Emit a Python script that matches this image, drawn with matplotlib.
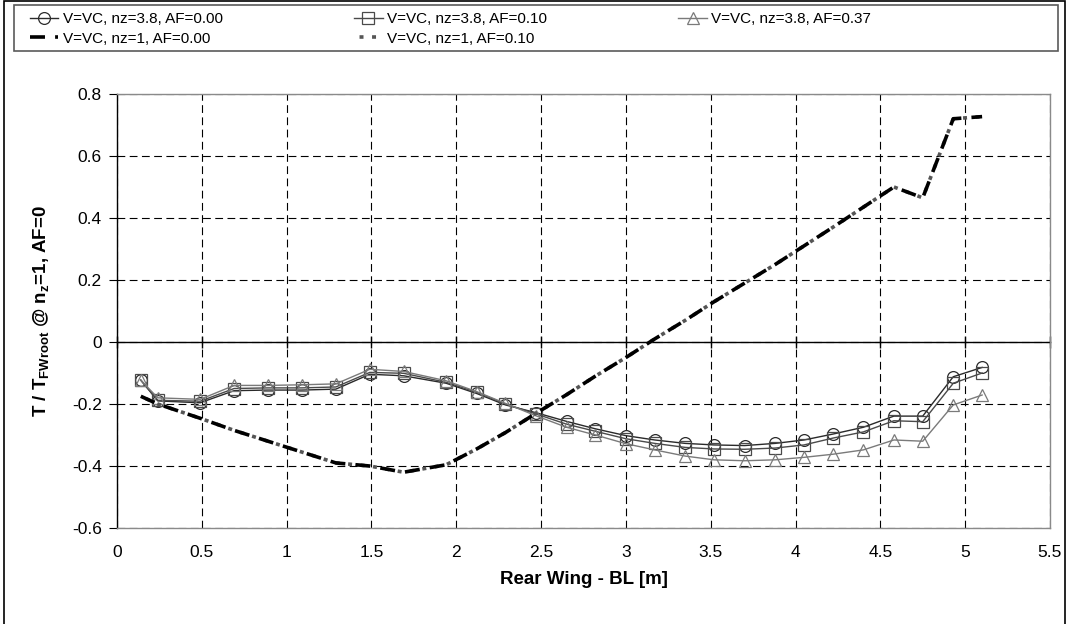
import matplotlib
matplotlib.use("Agg")
import matplotlib.pyplot as plt
from matplotlib.patches import Rectangle

plt.rcParams['font.family'] = ['Liberation Sans', 'DejaVu Sans']
plt.rcParams['mathtext.fontset'] = 'custom'
plt.rcParams['mathtext.rm'] = 'Liberation Sans'
plt.rcParams['mathtext.bf'] = 'Liberation Sans:bold'

# spanwise stations along the rear wing [m]
bl = [0.14, 0.24, 0.49, 0.69, 0.89, 1.09, 1.29, 1.49, 1.69, 1.94,
      2.12, 2.29, 2.47, 2.65, 2.82, 3.00, 3.17, 3.35, 3.52, 3.70,
      3.88, 4.05, 4.22, 4.40, 4.58, 4.75, 4.93, 5.10]

# torque ratio, nz = 3.8
t_nz38_af000 = [-0.123, -0.190, -0.196, -0.157, -0.155, -0.155, -0.152, -0.104, -0.109, -0.133,
                -0.166, -0.203, -0.228, -0.256, -0.280, -0.302, -0.316, -0.327, -0.332, -0.334,
                -0.327, -0.316, -0.297, -0.275, -0.239, -0.239, -0.112, -0.082]
t_nz38_af010 = [-0.123, -0.188, -0.191, -0.150, -0.148, -0.148, -0.145, -0.098, -0.101, -0.130,
                -0.162, -0.200, -0.232, -0.265, -0.288, -0.312, -0.327, -0.340, -0.345, -0.346,
                -0.342, -0.332, -0.310, -0.290, -0.254, -0.257, -0.133, -0.100]
t_nz38_af037 = [-0.123, -0.180, -0.185, -0.140, -0.140, -0.138, -0.135, -0.088, -0.095, -0.125,
                -0.160, -0.198, -0.238, -0.275, -0.300, -0.328, -0.348, -0.368, -0.380, -0.383,
                -0.380, -0.372, -0.362, -0.348, -0.316, -0.320, -0.203, -0.171]

# torque ratio, nz = 1
t_nz1_af000 = [-0.175, -0.200, -0.246, -0.285, -0.320, -0.355, -0.390, -0.400, -0.420, -0.396,
               -0.345, -0.292, -0.230, -0.170, -0.110, -0.050, 0.010, 0.070, 0.130, 0.190,
               0.250, 0.310, 0.370, 0.435, 0.500, 0.465, 0.720, 0.727]
t_nz1_af010 = [-0.175, -0.200, -0.246, -0.285, -0.320, -0.355, -0.390, -0.400, -0.420, -0.396,
               -0.345, -0.292, -0.230, -0.170, -0.110, -0.050, 0.010, 0.070, 0.130, 0.190,
               0.250, 0.310, 0.370, 0.435, 0.500, 0.465, 0.720, 0.727]

labels = ['V=VC, nz=3.8, AF=0.00', 'V=VC, nz=3.8, AF=0.10', 'V=VC, nz=3.8, AF=0.37',
          'V=VC, nz=1, AF=0.00', 'V=VC, nz=1, AF=0.10']

xticks = [0, 0.5, 1, 1.5, 2, 2.5, 3, 3.5, 4, 4.5, 5, 5.5]
yticks = [-0.6, -0.4, -0.2, 0, 0.2, 0.4, 0.6, 0.8]

fig = plt.figure(figsize=(10.68, 6.24), dpi=100)
# outer chart frame and the legend box
fig.patches.append(Rectangle((0.004, -0.01), 0.993, 1.008, transform=fig.transFigure,
                             fill=False, edgecolor='black', linewidth=1.2))
fig.patches.append(Rectangle((0.0131, 0.9183), 0.9775, 0.0737, transform=fig.transFigure,
                             fill=False, edgecolor='#5a5a5a', linewidth=1.2))
ax = fig.add_axes([0.1096, 0.1538, 0.8735, 0.6956])

mk = dict(markerfacecolor='none', markersize=8.5, markeredgewidth=0.9, linewidth=1.0)
h1, = ax.plot(bl, t_nz38_af000, color='#2a2a2a', marker='o', label=labels[0], **mk)
h2, = ax.plot(bl, t_nz38_af010, color='#4a4a4a', marker='s', label=labels[1], **mk)
h3, = ax.plot(bl, t_nz38_af037, color='#7a7a7a', marker='^', label=labels[2], **mk)
# the two nz=1 curves coincide: short grey dashes show through the gaps of the black ones
h5, = ax.plot(bl, t_nz1_af010, color='#555555', linewidth=2.6,
              linestyle=(1.94, (1.1, 2.37)), label=labels[4])
h4, = ax.plot(bl, t_nz1_af000, color='black', linewidth=2.6,
              linestyle=(0, (4.15, 2.8)), label=labels[3])

ax.set_xlim(0, 5.5)
ax.set_ylim(-0.6, 0.8)
ax.set_xticks(xticks)
ax.set_yticks(yticks)
ax.set_xticklabels([f'{v:g}' for v in xticks])
ax.set_yticklabels([f'{v:g}' for v in yticks])
ax.grid(True, color='black', linewidth=0.8, dashes=(7, 4))
ax.set_axisbelow(True)
ax.tick_params(axis='x', length=0, labelsize=12.5, pad=12)
ax.tick_params(axis='y', direction='out', length=6, labelsize=12.5, pad=5)

for side in ('top', 'right', 'bottom'):
    ax.spines[side].set_color('#8a8a8a')
    ax.spines[side].set_linewidth(1.0)
ax.spines['left'].set_linewidth(1.0)

# zero line carries the x ticks, labels stay at the bottom
zero_ax = ax.secondary_xaxis(0.6 / 1.4)
zero_ax.set_xticks(xticks)
zero_ax.tick_params(direction='inout', length=8, labelbottom=False, width=1.0)
zero_ax.spines['bottom'].set_linewidth(1.0)

ax.set_xlabel('Rear Wing - BL [m]', fontsize=13.5, fontweight='bold', labelpad=8)
ax.set_ylabel(r'T / T$_{\mathbf{FWroot}}$ @ n$_{\mathbf{z}}$=1, AF=0', fontsize=13.5,
              fontweight='bold', labelpad=14)

# row-major order across three columns
order = [h1, h4, h2, h5, h3]
leg = fig.legend(handles=order, labels=[h.get_label() for h in order], ncol=3,
                 loc='upper left', bbox_to_anchor=(0.0281, 0.981),
                 fontsize=11, frameon=False, handlelength=1.85, handletextpad=0.3,
                 borderaxespad=0, borderpad=0, labelspacing=0.37, columnspacing=8.6)

fig.savefig('out.png', dpi=100)
